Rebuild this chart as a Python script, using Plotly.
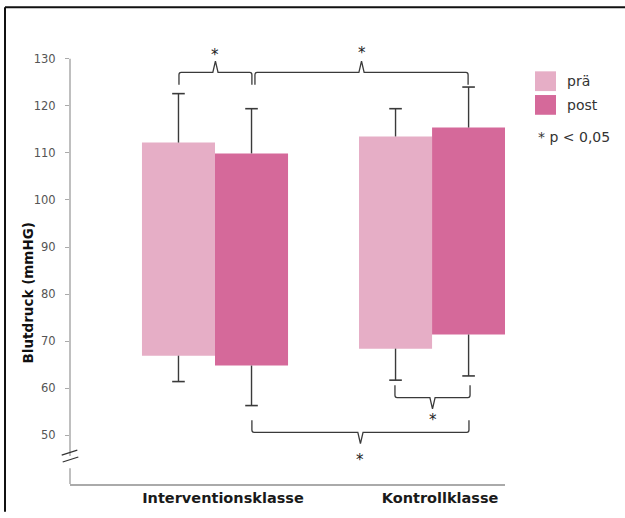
import plotly.graph_objects as go

# ---------------- data ----------------
categories = ["Interventionsklasse", "Kontrollklasse"]
x_pos = [0, 1]
series_names = ["prä", "post"]

pre_q1 = [66.9, 68.4]
pre_q3 = [112.2, 113.5]
pre_hi = [122.6, 119.4]
pre_lo = [61.4, 61.7]

post_q1 = [64.8, 71.4]
post_q3 = [109.9, 115.4]
post_hi = [119.4, 124.0]
post_lo = [56.3, 62.6]

y_ticks = [50, 60, 70, 80, 90, 100, 110, 120, 130]
y_title = "Blutdruck (mmHG)"
sig_note = "* p < 0,05"

# significance brackets: (x_start, x_end, y_line, direction, star_y)
brackets = [
    (-0.166, 0.170, 127.1, +1, 130.8),
    (0.184, 1.166, 127.1, +1, 131.2),
    (0.829, 1.175, 58.0, -1, 53.3),
    (0.170, 1.170, 50.6, -1, 44.8),
]

# ---------------- style ----------------
W, H = 625, 518
L, R, T, B = 70, 120, 20, 28
plot_w = W - L - R
plot_h = H - T - B
Y_MIN, Y_MAX = 39.63, 138.25
X_MIN, X_MAX = -0.668, 1.336
bar_w = 0.3365
colors = ["#E6AEC6", "#D5699A"]
whisker_col = "#3a3a3a"
axis_col = "#aaaaaa"
FONT = "DejaVu Sans"


def px_x(p):
    return (p - L) / plot_w


def px_y(p):
    return (H - B - p) / plot_h


fig = go.Figure()

series = [
    (pre_q1, pre_q3, pre_hi, pre_lo, -bar_w, -bar_w / 2),
    (post_q1, post_q3, post_hi, post_lo, 0.0, bar_w / 2),
]
for i, (q1, q3, hi, lo, off, centre) in enumerate(series):
    fig.add_trace(go.Bar(
        x=x_pos, y=[b - a for a, b in zip(q1, q3)], base=q1,
        width=bar_w, offset=off, marker=dict(color=colors[i], line=dict(width=0)),
        name=series_names[i], showlegend=False,
    ))
    xs, ys = [], []
    for k, xp in enumerate(x_pos):
        xs += [xp + centre, xp + centre, None, xp + centre, xp + centre, None]
        ys += [q3[k], hi[k], None, q1[k], lo[k], None]
    fig.add_trace(go.Scatter(x=xs, y=ys, mode="lines",
                             line=dict(color=whisker_col, width=1.4),
                             showlegend=False, hoverinfo="skip"))
    fig.add_trace(go.Scatter(
        x=[xp + centre for xp in x_pos] * 2, y=hi + lo, mode="markers",
        marker=dict(symbol="line-ew", size=9,
                    line=dict(color=whisker_col, width=1.6)),
        showlegend=False, hoverinfo="skip"))

shapes = []
# y axis line with break gap
shapes.append(dict(type="line", xref="paper", yref="y", x0=0, x1=0, y0=45.6, y1=130,
                   line=dict(color=axis_col, width=1.5)))
shapes.append(dict(type="line", xref="paper", yref="y", x0=0, x1=0, y0=Y_MIN, y1=43.0,
                   line=dict(color=axis_col, width=1.5)))
# break marks
for (a, b, c, d) in [(61.7, 460.7, 77.3, 455.7), (62.7, 467.7, 78.3, 462.7)]:
    shapes.append(dict(type="line", xref="paper", yref="paper",
                       x0=px_x(a), y0=px_y(b), x1=px_x(c), y1=px_y(d),
                       line=dict(color="#333333", width=1.2)))
# frame (top + left)
shapes.append(dict(type="line", xref="paper", yref="paper", x0=px_x(5), x1=px_x(625),
                   y0=px_y(7), y1=px_y(7), line=dict(color="#111111", width=2)))
shapes.append(dict(type="line", xref="paper", yref="paper", x0=px_x(5), x1=px_x(5),
                   y0=px_y(7), y1=px_y(518), line=dict(color="#111111", width=2)))

# brackets
annotations = []
tick_h = 2.6
tip_h = 2.4
tip_w = 0.012
for (x0, x1, yl, d, ys_) in brackets:
    xm = (x0 + x1) / 2
    path = (f"M {x0},{yl - d * tick_h} L {x0},{yl - d * 0.5} Q {x0},{yl} {x0 + 0.01},{yl} "
            f"L {xm - tip_w},{yl} L {xm},{yl + d * tip_h} L {xm + tip_w},{yl} "
            f"L {x1 - 0.01},{yl} Q {x1},{yl} {x1},{yl - d * 0.5} L {x1},{yl - d * tick_h}")
    shapes.append(dict(type="path", xref="x", yref="y", path=path,
                       line=dict(color=whisker_col, width=1.3)))
    annotations.append(dict(x=xm, y=ys_, xref="x", yref="y",
                            text="*", showarrow=False, xanchor="center",
                            font=dict(family=FONT, size=15, color="#222222"),
                            yanchor="middle"))

# legend (manual)
leg_rows = [(72, 92), (96, 116)]
for i, (ya, yb) in enumerate(leg_rows):
    shapes.append(dict(type="rect", xref="paper", yref="paper",
                       x0=px_x(535), x1=px_x(556), y0=px_y(yb), y1=px_y(ya),
                       fillcolor=colors[i], line=dict(width=0)))
    annotations.append(dict(x=px_x(565), y=px_y((ya + yb) / 2), xref="paper", yref="paper",
                            text=series_names[i], showarrow=False, xanchor="left",
                            yanchor="middle", font=dict(family=FONT, size=14, color="#333333")))
annotations.append(dict(x=px_x(536), y=px_y(139), xref="paper", yref="paper",
                        text=sig_note, showarrow=False, xanchor="left", yanchor="middle",
                        font=dict(family=FONT, size=14, color="#333333")))
# y title
annotations.append(dict(x=px_x(28), y=px_y(297), xref="paper", yref="paper",
                        text=f"<b>{y_title}</b>", textangle=-90, showarrow=False,
                        xanchor="center", yanchor="middle",
                        font=dict(family=FONT, size=13.5, color="#111111")))

fig.update_layout(
    width=W, height=H,
    margin=dict(l=L, r=R, t=T, b=B),
    paper_bgcolor="white", plot_bgcolor="white",
    barmode="overlay",
    showlegend=False,
    shapes=shapes, annotations=annotations,
    xaxis=dict(range=[X_MIN, X_MAX], tickvals=x_pos, ticktext=categories,
               showgrid=False, zeroline=False, showline=True, linecolor=axis_col,
               linewidth=1.5, ticks="", ticklabelshift=8, ticklabelstandoff=0,
               tickfont=dict(family=FONT, size=14.5, color="#1a1a1a", weight="bold")),
    yaxis=dict(range=[Y_MIN, Y_MAX], tickvals=y_ticks, showgrid=False, zeroline=False,
               showline=False, ticks="outside", ticklen=4, tickcolor=axis_col,
               tickwidth=1.2, ticklabelstandoff=7,
               tickfont=dict(family=FONT, size=11.5, color="#555555")),
)

fig.write_html("out.html",
               config={"displayModeBar": False},
               post_script="document.body.style.margin='0px';"
                           "document.body.style.overflow='hidden';")
